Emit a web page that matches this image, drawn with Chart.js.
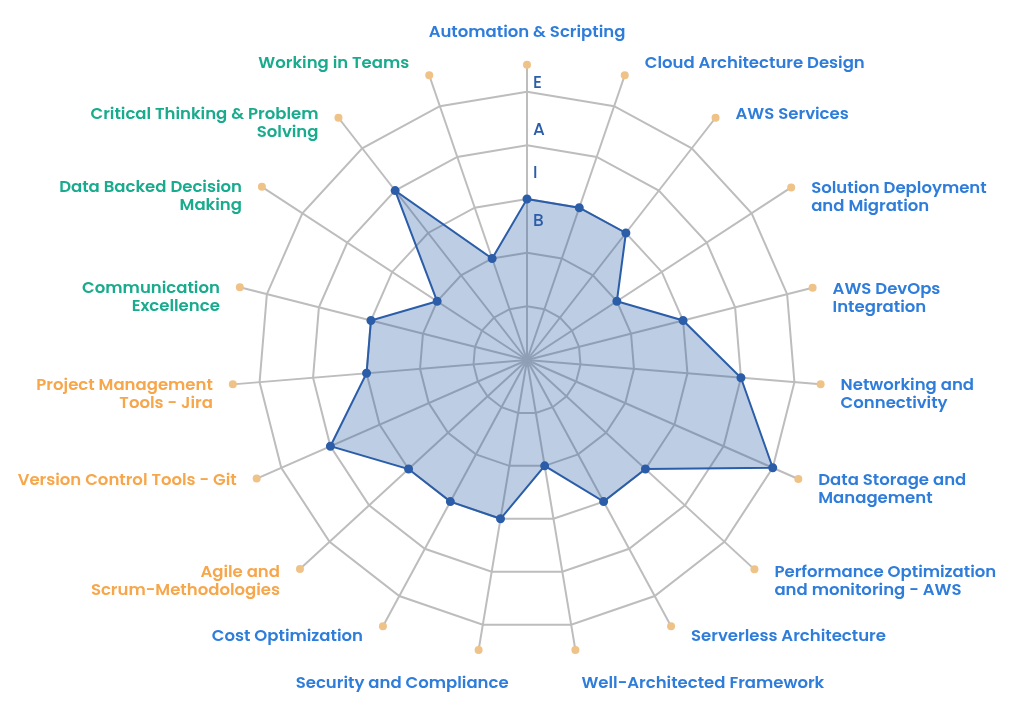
<!DOCTYPE html>
<html>
<head>
<meta charset="utf-8">
<title>Skills radar</title>
<script src="https://cdn.jsdelivr.net/npm/chart.js@4.4.1/dist/chart.umd.min.js"></script>
<style>
  html, body { margin: 0; padding: 0; background: #fff; }
  #wrap { width: 1024px; height: 714px; position: relative; }
</style>
</head>
<body>
<div id="wrap"><canvas id="radarSkills"></canvas></div>
<script>
    // axis labels, clockwise from the top
    const skillLabels = [
        'Automation & Scripting',
        'Cloud Architecture Design',
        'AWS Services',
        ['Solution Deployment', 'and Migration'],
        ['AWS DevOps', 'Integration'],
        ['Networking and', 'Connectivity'],
        ['Data Storage and', 'Management'],
        ['Performance Optimization', 'and monitoring - AWS'],
        'Serverless Architecture',
        'Well-Architected Framework',
        'Security and Compliance',
        'Cost Optimization',
        ['Agile and', 'Scrum-Methodologies'],
        'Version Control Tools - Git',
        ['Project Management', 'Tools - Jira'],
        ['Communication', 'Excellence'],
        ['Data Backed Decision', 'Making'],
        ['Critical Thinking & Problem', 'Solving'],
        'Working in Teams'
    ];

    const skillGroups = [
        'tech', 'tech', 'tech', 'tech', 'tech', 'tech', 'tech', 'tech', 'tech', 'tech', 'tech', 'tech',
        'pm', 'pm', 'pm',
        'soft', 'soft', 'soft', 'soft'
    ];

    const skillLevels = [3, 3, 3, 2, 3, 4, 5, 3, 3, 2, 3, 3, 3, 4, 3, 3, 2, 4, 2];

    // orange end dots of each axis (in scale units)
    const axisEnds = [5.5, 5.61, 5.72, 5.88, 5.49, 5.49, 5.52, 5.76, 5.64, 5.48,
                      5.48, 5.64, 5.75, 5.5, 5.5, 5.52, 5.9, 5.72, 5.61];

    // B / I / A / E letters between the rings
    const levelLetters = ['B', 'I', 'A', 'E'];
    const letterLevels = [2.57, 3.47, 4.28, 5.15];

    const scaleMax = 6;
    const lastRing = 5;

    const groupColors = { tech: '#2f7ddb', pm: '#f7a64a', soft: '#19ab8d' };
    const lineColor = '#2b5da8';
    const gridColor = '#bdbdbd';

    const labelFont = '600 16.5px Poppins, Inter, sans-serif';
    const lineH = 18;

    // spokes from the centre out to each orange dot
    const spokesPlugin = {
        id: 'spokes',
        beforeDatasetsDraw(chart) {
            const scale = chart.scales.r;
            const ctx = chart.ctx;
            ctx.save();
            ctx.strokeStyle = gridColor;
            ctx.lineWidth = 2;
            axisEnds.forEach((v, i) => {
                const p = scale.getPointPosition(i, scale.getDistanceFromCenterForValue(v));
                ctx.beginPath();
                ctx.moveTo(scale.xCenter, scale.yCenter);
                ctx.lineTo(p.x, p.y);
                ctx.stroke();
            });
            ctx.restore();
        }
    };

    const skillLabelsPlugin = {
        id: 'skillLabels',
        afterDatasetsDraw(chart) {
            const scale = chart.scales.r;
            const ctx = chart.ctx;
            ctx.save();

            ctx.font = '500 17px Poppins, Inter, sans-serif';
            ctx.fillStyle = lineColor;
            ctx.textAlign = 'left';
            ctx.textBaseline = 'middle';
            levelLetters.forEach((letter, k) => {
                const p = scale.getPointPosition(0, scale.getDistanceFromCenterForValue(letterLevels[k]));
                ctx.fillText(letter, p.x + 6, p.y);
            });

            ctx.font = labelFont;
            ctx.textBaseline = 'alphabetic';
            skillLabels.forEach((label, i) => {
                const lines = [].concat(label);
                const a = scale.getIndexAngle(i);
                const sin = Math.sin(a);
                const cos = Math.cos(a);
                const dot = scale.getPointPosition(i, scale.getDistanceFromCenterForValue(axisEnds[i]));
                let x, y, align;

                if (Math.abs(sin) < 0.01) {
                    align = 'center';
                    x = dot.x;
                    y = dot.y - 28 - (lines.length - 1) * lineH;
                } else if (cos < -0.95) {
                    // the two labels under the chart
                    align = sin > 0 ? 'left' : 'right';
                    x = sin > 0 ? dot.x + 6 : dot.x + 30;
                    y = dot.y + 38;
                } else {
                    align = sin > 0 ? 'left' : 'right';
                    x = dot.x + (sin > 0 ? 20 : -20);
                    y = dot.y + 6 - 18 * Math.sign(cos) * Math.pow(Math.abs(cos), 6);
                }

                ctx.fillStyle = groupColors[skillGroups[i]];
                ctx.textAlign = align;
                lines.forEach((line, j) => ctx.fillText(line, x, y + j * lineH));
            });

            ctx.restore();
        }
    };

    new Chart(document.getElementById('radarSkills'), {
        type: 'radar',
        data: {
            labels: skillLabels,
            datasets: [{
                label: 'Skills',
                data: skillLevels,
                borderColor: lineColor,
                backgroundColor: 'rgba(43,93,168,0.31)',
                borderWidth: 2,
                pointRadius: 3.5,
                pointBackgroundColor: lineColor,
                pointBorderColor: lineColor,
                fill: true
            }, {
                label: 'Axis ends',
                data: axisEnds,
                showLine: false,
                fill: false,
                pointRadius: 4,
                pointBackgroundColor: '#efc288',
                pointBorderColor: '#efc288',
                borderWidth: 0
            }]
        },
        options: {
            responsive: true,
            maintainAspectRatio: false,
            animation: false,
            layout: {
                padding: { left: 205, right: 175, top: 38, bottom: 32 }
            },
            plugins: {
                legend: { display: false },
                tooltip: { enabled: false }
            },
            scales: {
                r: {
                    min: 0,
                    max: scaleMax,
                    ticks: { display: false, stepSize: 1 },
                    pointLabels: { display: false },
                    grid: {
                        color: c => (c.tick && c.tick.value > lastRing) ? 'rgba(0,0,0,0)' : gridColor,
                        lineWidth: 2
                    },
                    angleLines: { display: false }
                }
            }
        },
        plugins: [spokesPlugin, skillLabelsPlugin]
    });
</script>
</body>
</html>
